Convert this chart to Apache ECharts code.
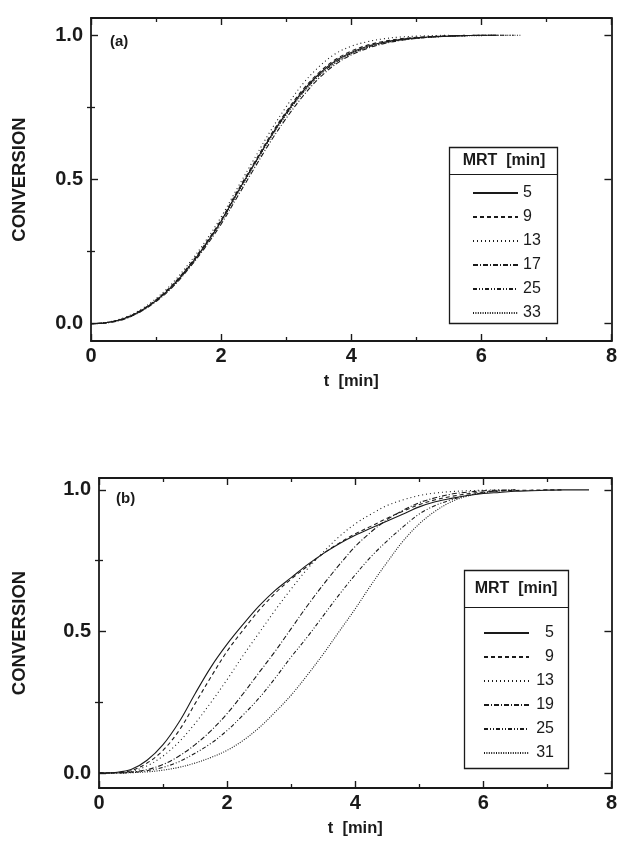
<!DOCTYPE html>
<html>
<head>
<meta charset="utf-8">
<script src="https://cdn.jsdelivr.net/npm/echarts@6/dist/echarts.min.js"></script>
<style>
  html, body { margin: 0; padding: 0; background: #ffffff; }
  #chart { width: 620px; height: 851px; }
</style>
</head>
<body>
<div id="chart"></div>
<script>
// Panel (a): conversion vs. time for several mean residence times
const timeA = [0, 0.25, 0.5, 0.75, 1, 1.25, 1.5, 1.75, 2, 2.25, 2.5, 2.75, 3, 3.25,
  3.5, 3.75, 4, 4.25, 4.5, 4.75, 5, 5.25, 5.5, 5.75, 6, 6.25, 6.5, 6.6];
const mrtA = ['5', '9', '13', '17', '25', '33'];
const convA5  = [0, .004, .017, .042, .08, .13, .195, .27, .355, .455, .55, .645, .73, .805, .865, .91, .94, .962, .976, .985, .991, .995, .997, .999, 1, 1];
const convA9  = [0, .004, .018, .044, .083, .134, .2, .275, .36, .46, .555, .65, .735, .81, .87, .915, .945, .966, .979, .988, .993, .996, .998, 1];
const convA13 = [0, .005, .02, .047, .087, .14, .207, .283, .37, .47, .568, .665, .752, .83, .89, .935, .962, .978, .988, .994, .997, .999, 1];
const convA17 = [0, .003, .015, .04, .077, .126, .19, .263, .345, .44, .535, .628, .712, .787, .85, .898, .932, .955, .971, .982, .989, .994, .997, .999, 1, 1];
const convA25 = [0, .004, .017, .043, .081, .132, .197, .272, .357, .455, .55, .643, .727, .8, .86, .905, .937, .959, .974, .984, .99, .994, .997, .999, 1, 1, 1];
const convA33 = [0, .004, .016, .041, .079, .129, .193, .268, .352, .45, .546, .64, .724, .798, .858, .904, .936, .958, .973, .983, .99, .994, .997, .998, .999, 1, 1, 1];

// Panel (b)
const timeB = [0, 0.25, 0.5, 0.75, 1, 1.25, 1.5, 1.75, 2, 2.25, 2.5, 2.75, 3, 3.25,
  3.5, 3.75, 4, 4.25, 4.5, 4.75, 5, 5.25, 5.5, 5.75, 6, 6.25, 6.5, 6.75, 7, 7.25, 7.5, 7.65];
const mrtB = ['5', '9', '13', '19', '25', '31'];
const convB5  = [0, .002, .012, .045, .10, .18, .28, .375, .455, .525, .59, .645, .69, .735, .775, .81, .84, .865, .89, .915, .94, .958, .97, .98, .987, .991, .995, .997, .999, 1, 1, 1];
const convB9  = [0, .001, .008, .035, .08, .15, .245, .34, .43, .505, .575, .635, .685, .73, .775, .812, .845, .872, .90, .925, .948, .965, .977, .986, .992, .996, .998, .999, 1, 1];
const convB13 = [0, .001, .006, .025, .06, .11, .175, .25, .33, .415, .495, .575, .65, .72, .78, .835, .88, .915, .945, .965, .98, .989, .994, .997, .999, 1];
const convB19 = [0, 0, .003, .012, .03, .06, .10, .15, .21, .28, .355, .43, .51, .59, .665, .735, .80, .852, .895, .928, .955, .972, .985, .992, .997, .999, 1];
const convB25 = [0, 0, .002, .008, .02, .04, .07, .105, .15, .205, .265, .335, .41, .48, .555, .63, .70, .765, .82, .87, .915, .945, .965, .98, .99, .996, 1];
const convB31 = [0, 0, .001, .004, .01, .02, .035, .055, .08, .115, .16, .215, .275, .345, .42, .50, .58, .665, .745, .82, .88, .925, .958, .978, .99, .997, 1];

const xTickValues = [0, 2, 4, 6, 8];
const yMajorValues = [0, 0.5, 1.0];
const yMinorValues = [0.25, 0.75];

const FONT = '"Liberation Sans", Arial, Helvetica, sans-serif';
const INK = '#1a1a1a';

// Dash pattern per legend row (same order in both panels)
const dashes = ['solid', [4, 3], [1, 3], [5, 2, 1, 2], [4, 2, 1, 2, 1, 2], [1, 1.4]];

function pairs(ts, vs) { return vs.map((v, i) => [ts[i], v]); }

function xAxesFor(gridIndex) {
  const base = {
    type: 'value', gridIndex, min: xTickValues[0], max: xTickValues[xTickValues.length - 1], interval: 2,
    axisLine: { show: true, onZero: false, lineStyle: { color: INK, width: 1.8 } },
    axisTick: { show: true, inside: true, length: 7, lineStyle: { color: INK, width: 1.4 } },
    minorTick: { show: true, splitNumber: 2, length: 4, lineStyle: { color: INK, width: 1.3 } },
    splitLine: { show: false }, minorSplitLine: { show: false }
  };
  return [
    Object.assign({}, base, {
      position: 'bottom',
      axisLabel: { show: true, margin: 5, fontSize: 20, fontWeight: 'bold', color: INK, fontFamily: FONT },
      name: 't  [min]', nameLocation: 'middle', nameGap: 32,
      nameTextStyle: { fontSize: 16.5, fontWeight: 'bold', color: INK, fontFamily: FONT }
    }),
    Object.assign({}, base, { position: 'top', axisLabel: { show: false } })
  ];
}

function yAxesFor(gridIndex, min, max, nameGap) {
  const common = { type: 'value', gridIndex, min, max, splitLine: { show: false } };
  const line = { show: true, onZero: false, lineStyle: { color: INK, width: 1.8 } };
  const major = { show: true, inside: true, length: 7, customValues: yMajorValues, lineStyle: { color: INK, width: 1.4 } };
  const minor = { show: true, inside: true, length: 4, customValues: yMinorValues, lineStyle: { color: INK, width: 1.3 } };
  return [
    Object.assign({}, common, {
      position: 'left', axisLine: line, axisTick: major,
      axisLabel: { show: true, customValues: yMajorValues, margin: 8, formatter: v => v.toFixed(1),
        fontSize: 20, fontWeight: 'bold', color: INK, fontFamily: FONT },
      name: 'CONVERSION', nameLocation: 'middle', nameGap,
      nameTextStyle: { fontSize: 18.5, fontWeight: 'bold', color: INK, fontFamily: FONT }
    }),
    Object.assign({}, common, { position: 'left', axisLine: { show: false }, axisTick: minor, axisLabel: { show: false } }),
    Object.assign({}, common, { position: 'right', axisLine: line, axisTick: major, axisLabel: { show: false } }),
    Object.assign({}, common, { position: 'right', axisLine: { show: false }, axisTick: minor, axisLabel: { show: false } })
  ];
}

function lineSeries(name, times, values, xi, yi, k) {
  return {
    name, type: 'line', xAxisIndex: xi, yAxisIndex: yi,
    data: pairs(times, values), symbol: 'none', smooth: 0.35,
    lineStyle: { color: INK, width: 1.1, type: dashes[k] },
    itemStyle: { color: INK },
    emphasis: { disabled: true }, animation: false
  };
}

const seriesA = [convA5, convA9, convA13, convA17, convA25, convA33]
  .map((v, k) => lineSeries('A|' + mrtA[k], timeA, v, 0, 0, k));
const seriesB = [convB5, convB9, convB13, convB19, convB25, convB31]
  .map((v, k) => lineSeries('B|' + mrtB[k], timeB, v, 2, 4, k));

function legendFor(prefix, names, left, top, labelAlign) {
  return {
    orient: 'vertical', left, top, padding: 0,
    itemWidth: 45, itemHeight: 12, itemGap: 8,
    data: names.map(n => prefix + n),
    selectedMode: false,
    itemStyle: { opacity: 0 },
    formatter: name => '{n|' + name.split('|')[1] + '}',
    textStyle: {
      color: INK, fontFamily: FONT, fontSize: 16,
      rich: { n: { fontSize: 16, fontFamily: FONT, color: INK, width: 20, align: labelAlign } }
    }
  };
}

const chart = echarts.init(document.getElementById('chart'), null, { renderer: 'canvas' });

const option = {
  backgroundColor: '#ffffff',
  animation: false,
  grid: [
    { left: 91, top: 18, width: 522, height: 323 },
    { left: 99, top: 478, width: 520, height: 310 }
  ],
  xAxis: xAxesFor(0).concat(xAxesFor(1)),
  yAxis: yAxesFor(0, -0.06, 1.06, 62).concat(yAxesFor(1, -0.053, 1.042, 70)),
  legend: [
    legendFor('A|', mrtA, 472, 185, 'left'),
    legendFor('B|', mrtB, 483, 625, 'right')
  ],
  series: seriesA.concat(seriesB),
  graphic: [
    // legend frames and headers
    { type: 'rect', shape: { x: 449.5, y: 147.5, width: 108, height: 176 }, style: { fill: 'none', stroke: INK, lineWidth: 1.3 }, silent: true },
    { type: 'line', shape: { x1: 449.5, y1: 174.5, x2: 557.5, y2: 174.5 }, style: { stroke: INK, lineWidth: 1 }, silent: true },
    { type: 'text', x: 504, y: 161, style: { text: 'MRT  [min]', fontSize: 16, fontWeight: 'bold', fontFamily: FONT, fill: INK, align: 'center', verticalAlign: 'middle' }, silent: true },
    { type: 'rect', shape: { x: 464.5, y: 570.5, width: 104, height: 198 }, style: { fill: 'none', stroke: INK, lineWidth: 1.3 }, silent: true },
    { type: 'line', shape: { x1: 464.5, y1: 607.5, x2: 568.5, y2: 607.5 }, style: { stroke: INK, lineWidth: 1 }, silent: true },
    { type: 'text', x: 516, y: 589, style: { text: 'MRT  [min]', fontSize: 16, fontWeight: 'bold', fontFamily: FONT, fill: INK, align: 'center', verticalAlign: 'middle' }, silent: true },
    // panel tags
    { type: 'text', x: 110, y: 42, style: { text: '(a)', fontSize: 15, fontWeight: 'bold', fontFamily: FONT, fill: INK, verticalAlign: 'middle' }, silent: true },
    { type: 'text', x: 116, y: 499, style: { text: '(b)', fontSize: 15, fontWeight: 'bold', fontFamily: FONT, fill: INK, verticalAlign: 'middle' }, silent: true }
  ]
};

chart.setOption(option);
</script>
</body>
</html>
